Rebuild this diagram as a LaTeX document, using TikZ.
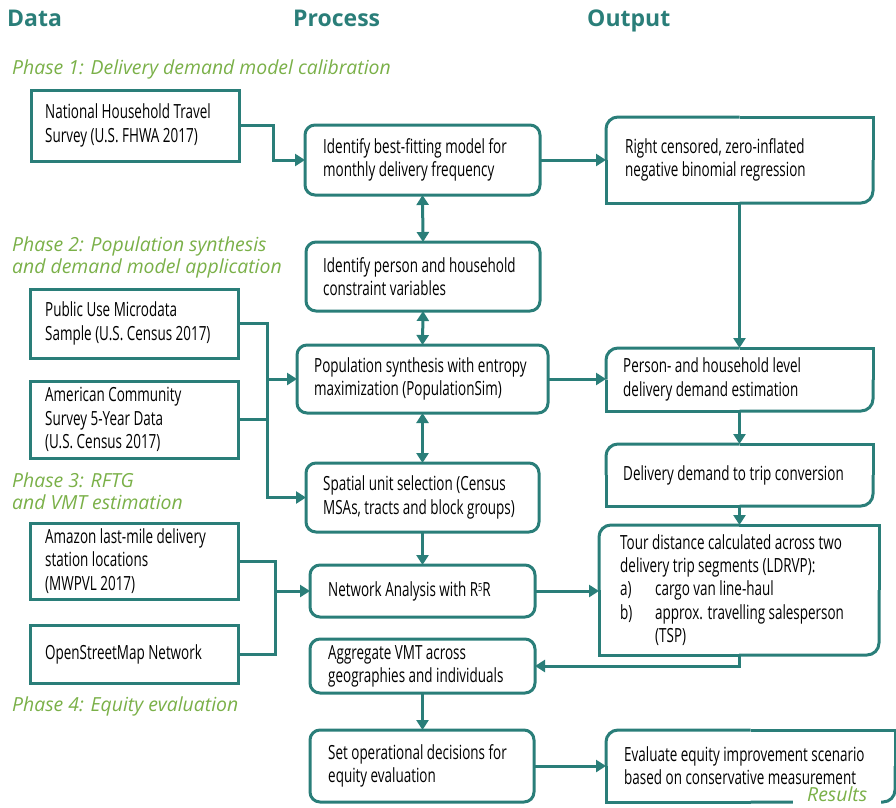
\documentclass[tikz,border=0pt]{standalone}
\usepackage{fontspec}
\setmainfont{Open Sans}
\newfontfamily\condfont[FakeStretch=0.69]{Open Sans}
\usetikzlibrary{arrows.meta,calc}
\definecolor{teal1}{RGB}{42,126,121}
\definecolor{green1}{RGB}{122,176,72}
\newcommand\drawoutbox[1]{%
  \draw[ln] (#1.north) -- (#1.north east) -- (#1.east);
  \draw[ln, rounded corners=12pt] (#1.east) -- (#1.south east) -- (#1.south);
  \draw[ln] (#1.south) -- (#1.south west) -- (#1.west);
  \draw[ln, rounded corners=12pt] (#1.west) -- (#1.north west) -- (#1.north);
}
\begin{document}
\begin{tikzpicture}[x=1pt,y=-1pt,
 ln/.style={draw=teal1, line width=3pt},
 databox/.style={ln, minimum width=208pt, inner sep=0pt, outer sep=0pt},
 procbox/.style={ln, rounded corners=10pt, inner sep=0pt, outer sep=0pt},
 outbox/.style={inner sep=0pt, outer sep=0pt},
 txt/.style={anchor=west, align=left, text=black, font=\condfont\fontsize{19.5}{23.3}\selectfont, inner sep=0pt},
 head/.style={anchor=base west, font=\bfseries\fontsize{23}{26}\selectfont, text=teal1, inner sep=0pt},
 phase/.style={anchor=base west, font=\itshape\fontsize{19.4}{22}\selectfont, text=green1, inner sep=0pt},
 arr/.style={ln, -{Triangle[length=10pt,width=12pt]}},
 darr/.style={ln, {Triangle[length=10pt,width=12pt]}-{Triangle[length=10pt,width=12pt]}}
]
\useasboundingbox (0,0) rectangle (896,807);

% headers
\node[head] (hdata) at (7,26) {Data};
\node[head] (hproc) at (293,26) {Process};
\node[head] (hout) at (587,26) {Output};

% phases
\node[phase] (ph1) at (12,74) {Phase 1: Delivery demand model calibration};
\node[phase] (ph2a) at (12,251) {Phase 2: Population synthesis};
\node[phase] (ph2b) at (12,273) {and demand model application};
\node[phase] (ph3a) at (12,487) {Phase 3: RFTG};
\node[phase] (ph3b) at (12,509) {and VMT estimation};
\node[phase] (ph4) at (12,711) {Phase 4: Equity evaluation};

% data boxes
\node[databox, minimum height=71pt] (d1) at (135,125.5) {};
\node[txt] (d1t) at ($(d1.west)+(14,0)$) {National Household Travel\\Survey (U.S. FHWA 2017)};
\node[databox, minimum height=69pt] (d2) at (134,323.5) {};
\node[txt] (d2t) at ($(d2.west)+(15,0)$) {Public Use Microdata\\Sample (U.S. Census 2017)};
\node[databox, minimum height=77pt] (d3) at (134,419.5) {};
\node[txt] (d3t) at ($(d3.west)+(15,0)$) {American Community\\Survey 5-Year Data\\(U.S. Census 2017)};
\node[databox, minimum height=76pt] (d4) at (134,561) {};
\node[txt] (d4t) at ($(d4.west)+(15,0)$) {Amazon last-mile delivery\\station locations\\(MWPVL 2017)};
\node[databox, minimum height=58pt] (d5) at (134,654) {};
\node[txt] (d5t) at ($(d5.west)+(15,0)$) {OpenStreetMap Network};

% process boxes
\node[procbox, minimum width=235pt, minimum height=70pt] (p1) at (422.5,160) {};
\node[txt] (p1t) at ($(p1.west)+(18,0)$) {Identify best-fitting model for\\monthly delivery frequency};
\node[procbox, minimum width=234pt, minimum height=69pt] (p2) at (423,276.5) {};
\node[txt] (p2t) at ($(p2.west)+(17,0)$) {Identify person and household\\constraint variables};
\node[procbox, minimum width=251pt, minimum height=68pt] (p3) at (422.5,379) {};
\node[txt] (p3t) at ($(p3.west)+(17,0)$) {Population synthesis with entropy\\maximization (PopulationSim)};
\node[procbox, minimum width=233pt, minimum height=69pt] (p4) at (422.5,497.5) {};
\node[txt] (p4t) at ($(p4.west)+(17,0)$) {Spatial unit selection (Census\\MSAs, tracts and block groups)};
\node[procbox, minimum width=225pt, minimum height=52pt] (p5) at (422.5,591) {};
\node[txt] (p5t) at ($(p5.west)+(18,0)$) {Network Analysis with R\raisebox{5pt}{\fontsize{11}{11}\selectfont 5}R};
\node[procbox, minimum width=225pt, minimum height=54pt] (p6) at (422.5,666) {};
\node[txt] (p6t) at ($(p6.west)+(18,0)$) {Aggregate VMT across\\geographies and individuals};
\node[procbox, minimum width=224pt, minimum height=72pt] (p7) at (422,766) {};
\node[txt] (p7t) at ($(p7.west)+(18,0)$) {Set operational decisions for\\equity evaluation};

% output boxes
\node[outbox, minimum width=267pt, minimum height=86pt] (o1) at (739.5,160) {};
\drawoutbox{o1}
\node[txt] (o1t) at ($(o1.west)+(19,0)$) {Right censored, zero-inflated\\negative binomial regression};
\node[outbox, minimum width=267pt, minimum height=63pt] (o2) at (739.5,379.5) {};
\drawoutbox{o2}
\node[txt] (o2t) at ($(o2.west)+(17,0)$) {Person- and household level\\delivery demand estimation};
\node[outbox, minimum width=267pt, minimum height=62pt] (o3) at (739.5,475) {};
\drawoutbox{o3}
\node[txt] (o3t) at ($(o3.west)+(17,0)$) {Delivery demand to trip conversion};
\node[outbox, minimum width=280pt, minimum height=130pt] (o4) at (739,590) {};
\drawoutbox{o4}
\node[txt] (o4t) at ($(o4.west)+(21,0)$) {Tour distance calculated across two\\delivery trip segments (LDRVP):\\\makebox[35pt][l]{a)}cargo van line-haul\\\makebox[35pt][l]{b)}approx. travelling salesperson\\\hspace*{35pt}(TSP)};
\node[outbox, minimum width=289pt, minimum height=72pt] (o5) at (750.5,766) {};
\drawoutbox{o5}
\node[phase, fill=white, inner xsep=14pt, inner ysep=5pt] (res) at (793,801) {Results};
\node[txt] (o5t) at ($(o5.west)+(18,0)$) {Evaluate equity improvement scenario\\based on conservative measurement};

% connectors
\coordinate (j1) at (273,125);
\coordinate (j2) at (267,323);
\coordinate (j3) at (275,561);
\draw[arr] (d1.east) -- (d1.east -| j1) |- (p1.west);
\draw[arr] (p1.east) -- (o1.west);
\draw[darr] (p1.south) -- (p2.north);
\draw[darr] (p2.south) -- (p3.north);
\draw[darr] (p3.south) -- (p4.north);
\draw[arr] (d2.east) -| (j2 |- p4.west) -- (p4.west);
\draw[ln] (d3.east) -- (d3.east -| j2);
\draw[arr] (j2 |- p3.west) -- (p3.west);
\draw[arr] (p3.east) -- (p3.east -| o2.west);
\draw[arr] (o1.south) -- (o1.south |- o2.north);
\draw[arr] (o2.south) -- (o3.north);
\draw[arr] (o3.south) -- (o3.south |- o4.north);
\draw[arr] (p4.south) -- (p4.south |- p5.north);
\draw[ln] (d4.east) -| (j3 |- d5.east) -- (d5.east);
\draw[arr] (j3 |- p5.west) -- (p5.west);
\draw[arr] (p5.east) -- (p5.east -| o4.west);
\draw[arr] (o4.south -| o3.south) |- (p6.east);
\draw[arr] (p6.south) -- (p6.south |- p7.north);
\draw[arr] (p7.east) -- (p7.east -| o5.west);
\end{tikzpicture}
\end{document}
